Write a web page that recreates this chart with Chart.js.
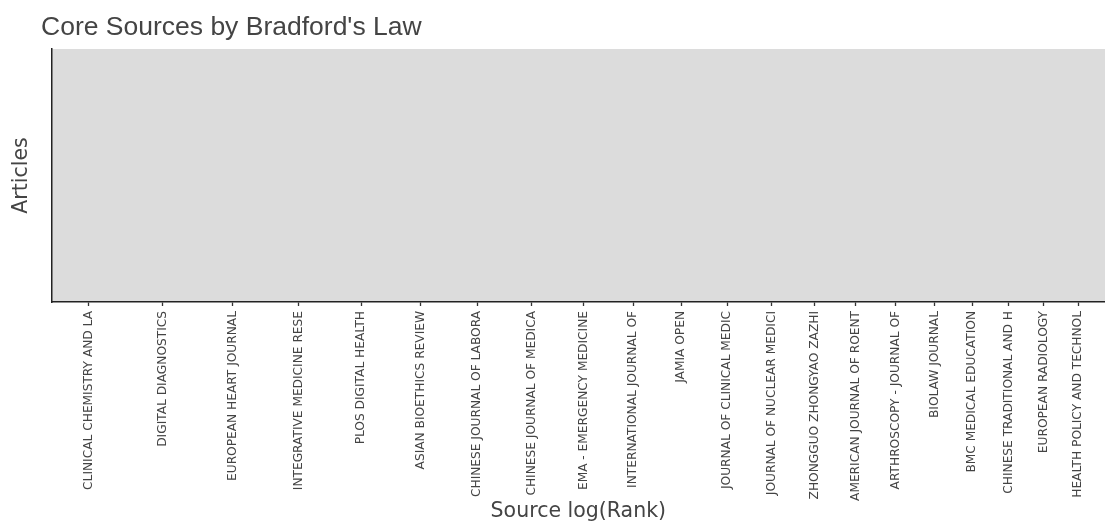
<!DOCTYPE html>
<html>
<head>
<meta charset="utf-8">
<script src="https://cdn.jsdelivr.net/npm/chart.js@4.4.1/dist/chart.umd.min.js"></script>
<style>
  html, body { margin: 0; padding: 0; background: #ffffff; }
  #wrap { position: relative; width: 1105px; height: 525px; }
</style>
</head>
<body>
<div id="wrap"><canvas id="c" width="1105" height="525"></canvas></div>
<script>
// ---- data ----
const chartTitle = "Core Sources by Bradford's Law";
const xAxisTitle = "Source log(Rank)";
const yAxisTitle = "Articles";

const sources = [
  "CLINICAL CHEMISTRY AND LA",
  "DIGITAL DIAGNOSTICS",
  "EUROPEAN HEART JOURNAL",
  "INTEGRATIVE MEDICINE RESE",
  "PLOS DIGITAL HEALTH",
  "ASIAN BIOETHICS REVIEW",
  "CHINESE JOURNAL OF LABORA",
  "CHINESE JOURNAL OF MEDICA",
  "EMA - EMERGENCY MEDICINE",
  "INTERNATIONAL JOURNAL OF",
  "JAMIA OPEN",
  "JOURNAL OF CLINICAL MEDIC",
  "JOURNAL OF NUCLEAR MEDICI",
  "ZHONGGUO ZHONGYAO ZAZHI",
  "AMERICAN JOURNAL OF ROENT",
  "ARTHROSCOPY - JOURNAL OF",
  "BIOLAW JOURNAL",
  "BMC MEDICAL EDUCATION",
  "CHINESE TRADITIONAL AND H",
  "EUROPEAN RADIOLOGY",
  "HEALTH POLICY AND TECHNOL"
];

// rank of each source (x axis is log(Rank))
const ranks = [16, 17, 18, 19, 20, 21, 22, 23, 24, 25, 26, 27, 28, 29, 30, 31, 32, 33, 34, 35, 36];

// articles per source: nothing is plotted in the reference
const articles = [];

// axis range (rank)
const rankMin = 15.52;
const rankMax = 36.8;

const plotBg = {
  id: 'plotBg',
  beforeDraw(chart) {
    const {ctx, chartArea: a} = chart;
    ctx.save();
    ctx.fillStyle = '#dcdcdc';
    ctx.fillRect(a.left, a.top, a.right - a.left, a.bottom - a.top);
    ctx.restore();
  }
};

const titlePlugin = {
  id: 'leftTitle',
  afterDraw(chart) {
    const ctx = chart.ctx;
    ctx.save();
    ctx.font = '26.5px "Liberation Sans", Arial, sans-serif';
    ctx.fillStyle = '#444444';
    ctx.textAlign = 'left';
    ctx.textBaseline = 'alphabetic';
    ctx.fillText(chartTitle, 41, 35);
    ctx.restore();
  }
};

new Chart(document.getElementById('c'), {
  type: 'scatter',
  data: {
    datasets: [{
      label: yAxisTitle,
      data: articles,
      showLine: true,
      borderColor: '#000000',
      pointRadius: 0
    }]
  },
  options: {
    responsive: false,
    animation: false,
    layout: { padding: { top: 49, left: 0, right: 0, bottom: 0 } },
    plugins: {
      legend: { display: false },
      tooltip: { enabled: false },
      title: { display: false }
    },
    scales: {
      x: {
        type: 'logarithmic',
        min: rankMin,
        max: rankMax,
        afterBuildTicks(scale) {
          scale.ticks = ranks.map(v => ({ value: v }));
        },
        afterFit(scale) {
          scale.height = 223;
        },
        grid: {
          display: true,
          drawOnChartArea: false,
          drawTicks: true,
          tickLength: 4,
          tickColor: '#333333',
          tickWidth: 1.3
        },
        border: { display: true, color: '#222222', width: 1.5 },
        ticks: {
          autoSkip: false,
          minRotation: 90,
          maxRotation: 90,
          padding: 5,
          color: '#444444',
          font: { family: '"DejaVu Sans", Verdana, sans-serif', size: 12.2 },
          callback(value, index) { return sources[index]; }
        },
        title: {
          display: true,
          text: xAxisTitle,
          color: '#444444',
          font: { family: '"DejaVu Sans", Verdana, sans-serif', size: 20.5 },
          padding: { top: 0, bottom: 1 }
        }
      },
      y: {
        min: 0,
        max: 1,
        grid: { display: true, drawOnChartArea: false, drawTicks: false },
        border: { display: true, color: '#222222', width: 1.5 },
        ticks: { display: false },
        title: {
          display: true,
          text: yAxisTitle,
          color: '#444444',
          font: { family: '"DejaVu Sans", Verdana, sans-serif', size: 20.5 },
          padding: { top: 9, bottom: 18 }
        }
      }
    }
  },
  plugins: [plotBg, titlePlugin]
});
</script>
</body>
</html>
